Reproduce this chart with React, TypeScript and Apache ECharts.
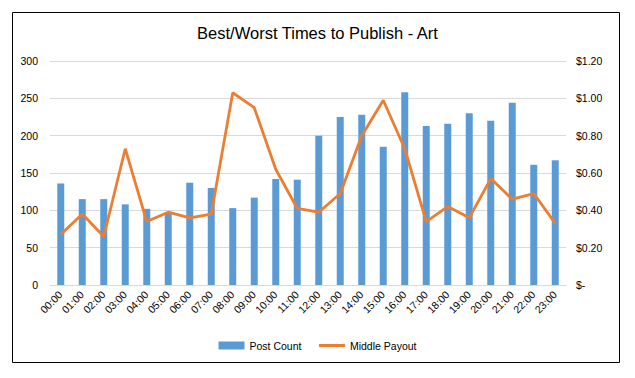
import React, { useEffect, useRef } from "react";
import * as echarts from "echarts";

const hours = [
  "00:00", "01:00", "02:00", "03:00", "04:00", "05:00", "06:00", "07:00",
  "08:00", "09:00", "10:00", "11:00", "12:00", "13:00", "14:00", "15:00",
  "16:00", "17:00", "18:00", "19:00", "20:00", "21:00", "22:00", "23:00",
];
const postCount = [
  136, 115, 115, 108, 102, 97, 137, 130, 103, 117, 142, 141,
  200, 225, 228, 185, 258, 213, 216, 230, 220, 244, 161, 167,
];
const middlePayout = [
  0.27, 0.38, 0.26, 0.73, 0.34, 0.39, 0.36, 0.38, 1.03, 0.95, 0.62, 0.41,
  0.39, 0.49, 0.8, 0.99, 0.73, 0.34, 0.42, 0.36, 0.57, 0.46, 0.49, 0.33,
];

const FONT = "Liberation Sans, Arial, sans-serif";

export default function App() {
  const ref = useRef<HTMLDivElement>(null);
  useEffect(() => {
    if (!ref.current) return;
    const chart = echarts.init(ref.current, undefined, { renderer: "svg" });
    chart.setOption({
      animation: false,
      backgroundColor: "#ffffff",
      textStyle: { fontFamily: FONT },
      title: {
        text: "Best/Worst Times to Publish - Art",
        left: "center",
        top: 19,
        textStyle: { fontFamily: FONT, fontSize: 16.5, fontWeight: "normal", color: "#000" },
      },
      graphic: [
        {
          type: "rect",
          shape: { x: 12.5, y: 12.5, width: 607, height: 350 },
          style: { fill: "none", stroke: "#000", lineWidth: 1 },
          silent: true,
        },
      ],
      legend: {
        left: "center",
        top: 335,
        itemWidth: 26,
        itemHeight: 8,
        itemGap: 16,
        textStyle: { fontFamily: FONT, fontSize: 10.5, color: "#000" },
        data: [
          { name: "Post Count", icon: "rect" },
          {
            name: "Middle Payout",
            itemStyle: { color: "rgba(0,0,0,0)", opacity: 0, borderWidth: 0 },
            lineStyle: { color: "#ED7D31", width: 3 },
          },
        ],
      },
      grid: { left: 50, right: 69, top: 61, bottom: 93, containLabel: false },
      xAxis: {
        type: "category",
        data: hours,
        axisLine: { lineStyle: { color: "#d9d9d9" } },
        axisTick: { show: false },
        axisLabel: {
          rotate: 45,
          margin: 8,
          interval: 0,
          fontFamily: FONT,
          fontSize: 10.5,
          color: "#000",
        },
      },
      yAxis: [
        {
          type: "value",
          min: 0,
          max: 300,
          interval: 50,
          axisLine: { show: false },
          axisTick: { show: false },
          splitLine: { lineStyle: { color: "#d9d9d9" } },
          axisLabel: { margin: 12, fontFamily: FONT, fontSize: 10.5, color: "#000" },
        },
        {
          type: "value",
          min: 0,
          max: 1.2,
          interval: 0.2,
          position: "right",
          axisLine: { show: false },
          axisTick: { show: false },
          splitLine: { show: false },
          axisLabel: {
            margin: 10,
            fontFamily: FONT,
            fontSize: 10.5,
            color: "#000",
            formatter: (v: number) => (v === 0 ? "$-" : "$" + v.toFixed(2)),
          },
        },
      ],
      series: [
        {
          name: "Post Count",
          type: "bar",
          data: postCount,
          barWidth: 7,
          itemStyle: { color: "#5B9BD5" },
          yAxisIndex: 0,
        },
        {
          name: "Middle Payout",
          type: "line",
          data: middlePayout,
          yAxisIndex: 1,
          symbol: "none",
          lineStyle: { color: "#ED7D31", width: 2.8 },
          itemStyle: { color: "#ED7D31" },
        },
      ],
    });
    return () => chart.dispose();
  }, []);
  return (
    <div
      ref={ref}
      style={{ position: "absolute", left: 0, top: 0, width: 635, height: 378 }}
    />
  );
}
